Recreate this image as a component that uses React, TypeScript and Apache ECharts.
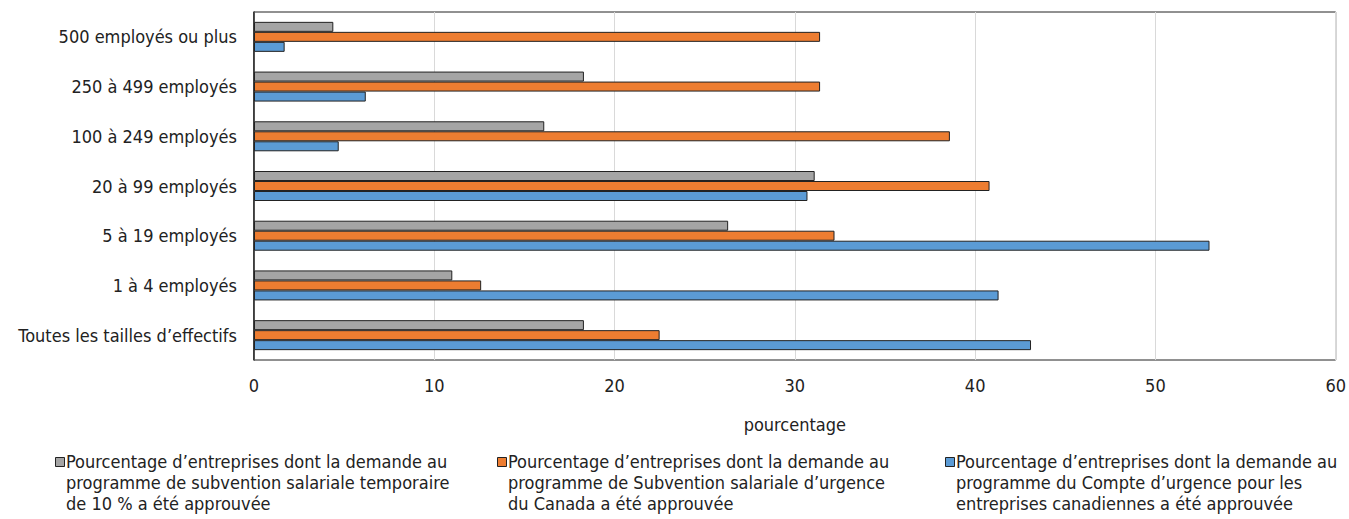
import React, { useEffect, useRef } from "react";
import * as echarts from "echarts";

const categories = [
  "Toutes les tailles d’effectifs",
  "1 à 4 employés",
  "5 à 19 employés",
  "20 à 99 employés",
  "100 à 249 employés",
  "250 à 499 employés",
  "500 employés ou plus",
];
const grayValues = [18.3, 11.0, 26.3, 31.1, 16.1, 18.3, 4.4];
const orangeValues = [22.5, 12.6, 32.2, 40.8, 38.6, 31.4, 31.4];
const blueValues = [43.1, 41.3, 53.0, 30.7, 4.7, 6.2, 1.7];
const xTicks = [0, 10, 20, 30, 40, 50, 60];

const seriesNames = [
  "Pourcentage d’entreprises dont la demande au\nprogramme de subvention salariale temporaire\nde 10 % a été approuvée",
  "Pourcentage d’entreprises dont la demande au\nprogramme de Subvention salariale d’urgence\ndu Canada a été approuvée",
  "Pourcentage d’entreprises dont la demande au\nprogramme du Compte d’urgence pour les\nentreprises canadiennes a été approuvée",
];
const colors = ["#A5A5A5", "#ED7D31", "#5B9BD5"];

const FONT = "'DejaVu Sans Condensed', 'Liberation Sans Narrow', sans-serif";

export default function App() {
  const ref = useRef<HTMLDivElement>(null);
  useEffect(() => {
    if (!ref.current) return;
    const chart = echarts.init(ref.current, undefined, { renderer: "svg" });
    const legendX = [55, 497, 945];
    const mkSeries = (idx: number, data: number[]) => ({
      name: seriesNames[idx],
      type: "bar",
      data,
      barWidth: 10,
      barGap: "0%",
      barCategoryGap: "38%",
      itemStyle: { color: colors[idx], borderColor: "#222", borderWidth: 1 },
    });
    chart.setOption({
      animation: false,
      textStyle: { fontFamily: FONT },
      grid: {
        left: 254,
        right: 8,
        top: 12,
        bottom: 159,
        show: true,
        borderColor: "#222",
        borderWidth: 1,
      },
      xAxis: {
        type: "value",
        min: xTicks[0],
        max: xTicks[xTicks.length - 1],
        interval: 10,
        axisLine: { show: false },
        axisTick: { show: false },
        splitLine: { show: true, lineStyle: { color: "#d9d9d9", width: 1 } },
        axisLabel: { fontSize: 18, color: "#222", margin: 16, fontFamily: FONT },
        name: "pourcentage",
        nameLocation: "middle",
        nameGap: 55,
        nameTextStyle: { fontSize: 18, color: "#222", fontFamily: FONT },
      },
      yAxis: {
        type: "category",
        data: categories,
        axisLine: { show: true, lineStyle: { color: "#222", width: 1.5 } },
        axisTick: { show: false },
        axisLabel: { fontSize: 18, color: "#222", margin: 17, fontFamily: FONT },
      },
      series: [mkSeries(0, grayValues), mkSeries(1, orangeValues), mkSeries(2, blueValues)],
      graphic: seriesNames.flatMap((name, i) => [
        {
          type: "rect",
          left: legendX[i],
          top: 457,
          shape: { width: 9, height: 9 },
          style: { fill: colors[i], stroke: "#222", lineWidth: 1 },
        },
        {
          type: "text",
          left: legendX[i] + 11,
          top: 451,
          style: {
            text: name,
            fontSize: 18,
            lineHeight: 21,
            fill: "#222",
            fontFamily: FONT,
          },
        },
      ]),
    });
    return () => chart.dispose();
  }, []);
  return (
    <div
      ref={ref}
      style={{ position: "fixed", left: 0, top: 0, width: 1349, height: 519, background: "#fff" }}
    />
  );
}
